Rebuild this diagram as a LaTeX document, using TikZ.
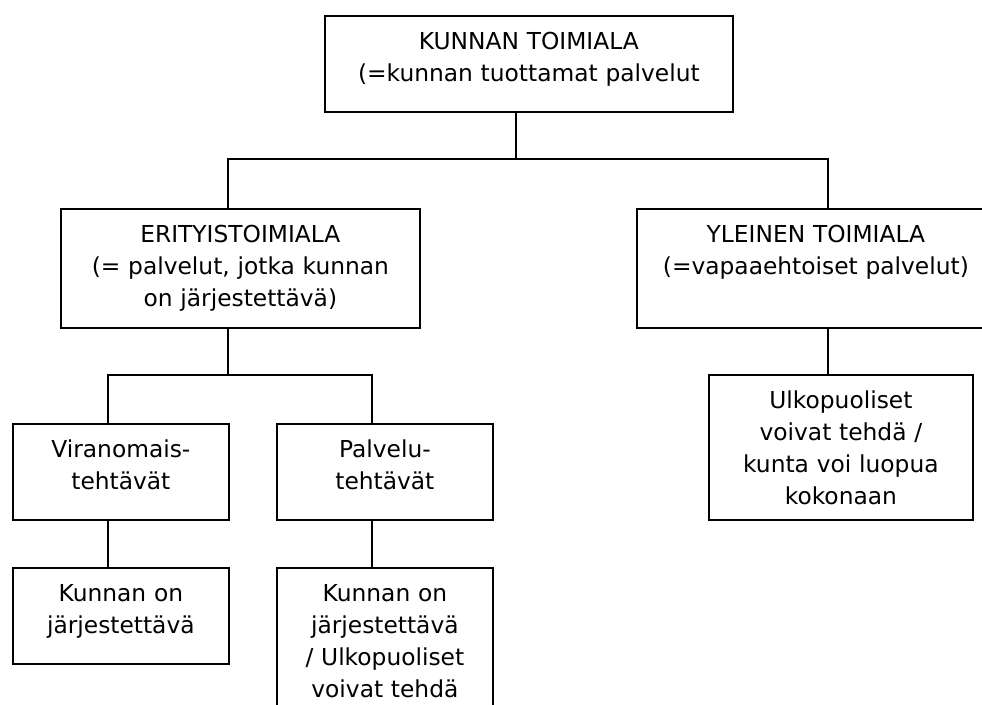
\documentclass[tikz,border=0pt]{standalone}
\usepackage{fontspec}
\setmainfont{DejaVu Sans}

\tikzset{
	orgbox/.style={draw, line width=1.3pt, anchor=north west, inner sep=0pt, align=center,
		text height=25.5pt, font=\fontsize{17.5}{24}\selectfont},
	orgline/.style={line width=1.3pt},
}

\begin{document}
\begin{tikzpicture}[x=0.75pt, y=-0.75pt]
		\useasboundingbox (0, 0) rectangle (982, 704);

		\node[orgbox, text width=306pt, text depth=46.5pt] (top) at (324, 15)
			{KUNNAN TOIMIALA\\(=kunnan tuottamat palvelut};
		\node[orgbox, text width=269.25pt, text depth=63.75pt] (erit) at (60, 208)
			{ERITYISTOIMIALA\\(= palvelut, jotka kunnan\\on järjestettävä)};
		\node[orgbox, text width=268.5pt, text depth=63.75pt] (yle) at (636, 208)
			{YLEINEN TOIMIALA\\(=vapaaehtoiset palvelut)};
		\node[orgbox, text width=162pt, text depth=46.5pt] (vir) at (12, 423)
			{Viranomais-\\tehtävät};
		\node[orgbox, text width=162pt, text depth=46.5pt] (pal) at (276, 423)
			{Palvelu-\\tehtävät};
		\node[orgbox, text width=162pt, text depth=46.5pt] (kun1) at (12, 567)
			{Kunnan on\\järjestettävä};
		\node[orgbox, text width=162pt, text depth=102pt] (kun2) at (276, 567)
			{Kunnan on\\järjestettävä\\/ Ulkopuoliset\\voivat tehdä};
		\node[orgbox, text width=198pt, text depth=83.25pt] (ulko) at (708, 374)
			{Ulkopuoliset\\voivat tehdä /\\kunta voi luopua\\kokonaan};

		\coordinate (hubtop) at (516, 159);
		\coordinate (hubleft) at (228, 159);
		\coordinate (hubright) at (828, 159);
		\coordinate (hubmid) at (228, 375);
		\coordinate (hubvir) at (108, 375);
		\coordinate (hubpal) at (372, 375);

		\draw[orgline] (top.south -| hubtop) -- (hubtop);
		\draw[orgline] (erit.north -| hubleft) -- (hubleft) -- (hubright) -- (yle.north -| hubright);
		\draw[orgline] (erit.south -| hubmid) -- (hubmid);
		\draw[orgline] (vir.north -| hubvir) -- (hubvir) -- (hubpal) -- (pal.north -| hubpal);
		\draw[orgline] (vir.south -| hubvir) -- (kun1.north -| hubvir);
		\draw[orgline] (pal.south -| hubpal) -- (kun2.north -| hubpal);
		\draw[orgline] (yle.south -| hubright) -- (ulko.north -| hubright);
	\end{tikzpicture}
\end{document}
